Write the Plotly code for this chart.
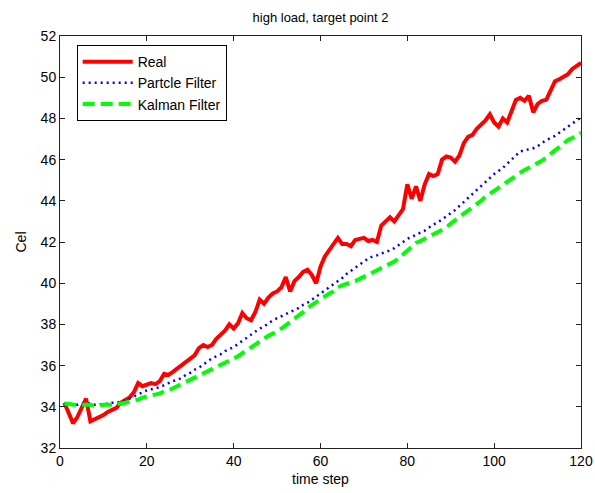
import plotly.graph_objects as go

# time steps and temperature series
time_step = list(range(1, 121))

real = [
    34.2, 33.7, 33.2, 33.5, 34.0, 34.4, 33.3, 33.4, 33.45, 33.6,
    33.75, 33.85, 33.95, 34.2, 34.3, 34.45, 34.7, 35.15, 35.0, 35.1,
    35.15, 35.1, 35.25, 35.6, 35.55, 35.7, 35.85, 36.0, 36.2, 36.35,
    36.5, 36.85, 37.0, 36.9, 37.0, 37.3, 37.5, 37.7, 38.0, 37.8,
    38.05, 38.55, 38.3, 38.2, 38.6, 39.2, 39.0, 39.3, 39.5, 39.6,
    39.8, 40.3, 39.6, 40.1, 40.3, 40.55, 40.65, 40.4, 40.0, 40.8,
    41.3, 41.6, 41.9, 42.2, 41.9, 41.9, 41.8, 42.1, 42.15, 42.2,
    42.05, 42.1, 42.0, 42.8, 43.0, 43.2, 43.0, 43.3, 43.6, 44.8,
    44.1, 44.7, 44.0, 44.8, 45.3, 45.2, 45.3, 46.0, 46.15, 46.1,
    45.9, 46.2, 46.8, 47.1, 47.2, 47.5, 47.7, 47.9, 48.2, 47.8,
    47.6, 48.0, 47.8, 48.4, 48.9, 49.0, 48.85, 49.1, 48.3, 48.7,
    48.85, 48.9, 49.3, 49.8, 49.9, 50.0, 50.15, 50.4, 50.55, 50.7,
]

particle = [
    34.15, 34.15, 34.1, 34.1, 34.15, 34.2, 34.15, 34.1, 34.1, 34.15,
    34.15, 34.2, 34.2, 34.25, 34.3, 34.4, 34.5, 34.6, 34.7, 34.8,
    34.85, 34.9, 34.95, 35.05, 35.15, 35.25, 35.3, 35.4, 35.55, 35.65,
    35.8, 35.9, 36.05, 36.2, 36.35, 36.45, 36.55, 36.7, 36.8, 36.9,
    37.05, 37.2, 37.35, 37.5, 37.65, 37.8, 37.9, 38.05, 38.2, 38.3,
    38.4, 38.5, 38.6, 38.7, 38.8, 38.95, 39.05, 39.2, 39.35, 39.5,
    39.65, 39.8, 39.95, 40.1, 40.25, 40.45, 40.6, 40.75, 40.9, 41.05,
    41.2, 41.3, 41.35, 41.45, 41.5, 41.6, 41.7, 41.85, 42.0, 42.15,
    42.25, 42.35, 42.45, 42.55, 42.7, 42.85, 42.95, 43.1, 43.25, 43.4,
    43.55, 43.75, 43.95, 44.1, 44.3, 44.5, 44.7, 44.9, 45.1, 45.3,
    45.45, 45.6, 45.8, 46.0, 46.2, 46.4, 46.45, 46.5, 46.55, 46.65,
    46.8, 46.95, 47.05, 47.15, 47.3, 47.45, 47.6, 47.75, 47.9, 48.05,
]

kalman = [
    34.15, 34.15, 34.1, 34.1, 34.1, 34.1, 34.1, 34.05, 34.05, 34.1,
    34.1, 34.1, 34.15, 34.15, 34.2, 34.25, 34.3, 34.35, 34.45, 34.5,
    34.55, 34.6, 34.65, 34.75, 34.8, 34.9, 35.0, 35.1, 35.25, 35.35,
    35.45, 35.55, 35.65, 35.7, 35.8, 35.9, 36.0, 36.1, 36.2, 36.3,
    36.45, 36.6, 36.75, 36.9, 37.0, 37.15, 37.3, 37.45, 37.55, 37.65,
    37.8, 37.95, 38.1, 38.25, 38.45, 38.6, 38.8, 38.95, 39.1, 39.25,
    39.35, 39.5, 39.6, 39.8, 39.9, 40.0, 40.05, 40.1, 40.2, 40.3,
    40.4, 40.5, 40.65, 40.75, 40.85, 40.95, 41.05, 41.2, 41.4, 41.6,
    41.8, 41.95, 42.05, 42.15, 42.25, 42.35, 42.45, 42.6, 42.7, 42.9,
    43.05, 43.2, 43.35, 43.5, 43.7, 43.85, 44.0, 44.2, 44.35, 44.5,
    44.65, 44.8, 44.95, 45.1, 45.25, 45.4, 45.5, 45.6, 45.7, 45.8,
    45.95, 46.1, 46.3, 46.45, 46.6, 46.8, 46.95, 47.05, 47.15, 47.3,
]

x_ticks = [0, 20, 40, 60, 80, 100, 120]
y_ticks = [32, 34, 36, 38, 40, 42, 44, 46, 48, 50, 52]

font_family = "Liberation Sans, Arial, sans-serif"

fig = go.Figure()
fig.add_trace(go.Scatter(
    x=time_step, y=real, mode="lines", name="Real",
    line=dict(color="#FF0000", width=4),
))
fig.add_trace(go.Scatter(
    x=time_step, y=particle, mode="lines", name="Partcle Filter",
    line=dict(color="#0000FF", width=2.5, dash="2px,4px"),
))
fig.add_trace(go.Scatter(
    x=time_step, y=kalman, mode="lines", name="Kalman Filter",
    line=dict(color="#00FF00", width=4, dash="12px,6px"),
))

axis_common = dict(
    showgrid=False, zeroline=False, automargin=False,
    showline=True, linecolor="#222222", linewidth=1, mirror="ticks",
    ticks="inside", ticklen=5, tickcolor="#222222",
    tickfont=dict(family=font_family, size=14, color="#000000"),
)

fig.update_layout(
    width=595, height=493,
    margin=dict(l=60, r=14, t=36, b=45),
    paper_bgcolor="white", plot_bgcolor="white",
    title=dict(
        text="high load, target point 2",
        x=(60 + 581) / 2 / 595, xanchor="center",
        y=1 - 17 / 493, yanchor="middle",
        font=dict(family=font_family, size=13, color="#000000"),
    ),
    xaxis=dict(
        range=[0, 120], tickvals=x_ticks,
        title=dict(text="time step", standoff=6,
                   font=dict(family=font_family, size=14, color="#000000")),
        **axis_common,
    ),
    yaxis=dict(
        range=[32, 52], tickvals=y_ticks,
        title=dict(text="Cel", standoff=10,
                   font=dict(family=font_family, size=14, color="#000000")),
        **axis_common,
    ),
    legend=dict(
        x=0.032, y=0.978, xanchor="left", yanchor="top",
        bgcolor="white", bordercolor="#000000", borderwidth=1,
        font=dict(family=font_family, size=14, color="#000000"),
        itemwidth=50, tracegroupgap=0,
    ),
    showlegend=True,
)

fig.write_html("out.html")
